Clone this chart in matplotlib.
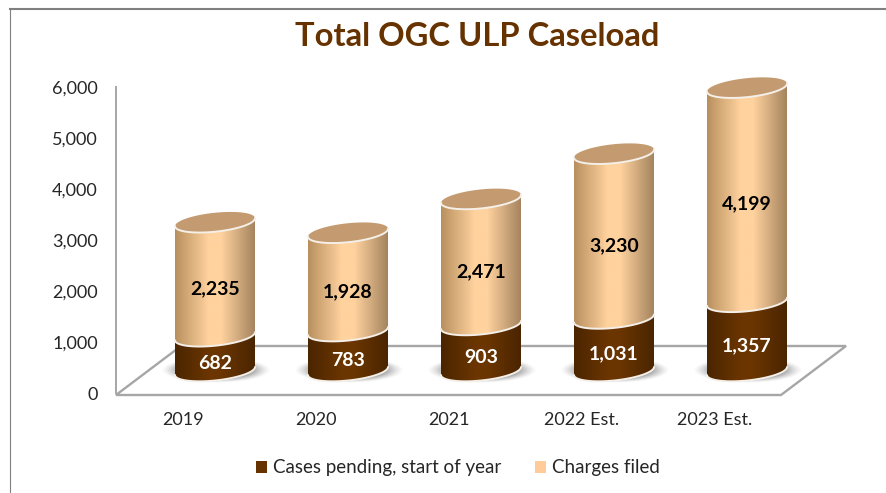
import numpy as np
import matplotlib
matplotlib.use('Agg')
import matplotlib.pyplot as plt
from matplotlib.lines import Line2D
from matplotlib.patches import Polygon, Patch

years = ['2019', '2020', '2021', '2022 Est.', '2023 Est.']
pending = [682, 783, 903, 1031, 1357]
filed = [2235, 1928, 2471, 3230, 4199]
yticks = [0, 1000, 2000, 3000, 4000, 5000, 6000]

plt.rcParams['font.family'] = ['Lato', 'DejaVu Sans']

W, H = 886, 493
fig = plt.figure(figsize=(W / 100, H / 100), dpi=100)

# frame of the screenshot, only top and left are visible
fig.add_artist(Line2D([9.5 / W, 1], [1 - 9 / H, 1 - 9 / H], color='#808080', lw=1.5))
fig.add_artist(Line2D([9.5 / W, 9.5 / W], [1 - 9 / H, 0], color='#808080', lw=0.8))

# axes box in pixels, 133 px between categories
left, right, bottom, top = 116, 860, 393, 55
ax = fig.add_axes([left / W, 1 - bottom / H, (right - left) / W, (bottom - top) / H])
px_y = 6000 / 306.0  # value per pixel
px_x = 1 / 133.0
xmin = (left - 215) * px_x
xmax = (right - 215) * px_x
ymax = (bottom - top) * px_y


def fx(p):
    return xmin + (p - left) * px_x


def fy(p):
    return (bottom - p) * px_y


# floor
floor = Polygon([(fx(116), fy(395)), (fx(781), fy(395)), (fx(846), fy(346)), (fx(181), fy(346))],
                closed=True, fc='white', ec='#a6a6a6', lw=1.7, clip_on=False, zorder=1)
ax.add_patch(floor)

half_w = 40 * px_x
b_y = 9.5 * px_y
tilt = 4.0 * px_y
base = 22.0 * px_y  # centre of the base ellipse above the front floor edge


def front_arc(x, y):
    t = np.linspace(np.pi, 0, 80)
    return x + half_w * np.cos(t), y - b_y * np.sin(t) + tilt * np.cos(t)


def gradient(c_edge_l, c_mid, c_edge_r):
    stops = np.array([matplotlib.colors.to_rgb(c) for c in (c_edge_l, c_mid, c_mid, c_edge_r)])
    pos = [0, 0.42, 0.58, 1]
    xs = np.linspace(0, 1, 120)
    return np.stack([np.interp(xs, pos, stops[:, i]) for i in range(3)], axis=1)[np.newaxis, :, :]


grad_top = gradient('#b8905f', '#ffd29e', '#a5845f')
grad_low = gradient('#4a2500', '#6b3500', '#4a2500')

# soft shadow, one image reused under every cylinder
gx, gy = np.meshgrid(np.linspace(-1, 1, 120), np.linspace(-1, 1, 50))
shadow = np.zeros((50, 120, 4))
shadow[:, :, :3] = 0.35
shadow[:, :, 3] = 0.7 * np.clip((1 - np.hypot(gx, gy)) / 0.4, 0, 1) ** 1.3


def segment(x, y0, y1, grad, z):
    ax0, ay0 = front_arc(x, y0)
    ax1, ay1 = front_arc(x, y1)
    body = Polygon(np.column_stack([np.r_[ax0, ax1[::-1]], np.r_[ay0, ay1[::-1]]]),
                   closed=True, fc='none', ec='none', transform=ax.transData)
    ax.add_patch(body)
    im = ax.imshow(grad, extent=[x - half_w, x + half_w, y0 - 2 * b_y, y1 + 2 * b_y],
                   aspect='auto', zorder=z, interpolation='bilinear')
    im.set_clip_path(body)
    ax.plot(ax0, ay0, color='#f4efe8', lw=1.4, zorder=z + 0.2, solid_capstyle='round')


for i, year in enumerate(years):
    y0 = base
    y1 = base + pending[i]
    y2 = y1 + filed[i]
    # blurred shadow on the floor
    ax.imshow(shadow, extent=[i - 54 * px_x, i + 56 * px_x, y0 - 12 * px_y, y0 + 14 * px_y],
              aspect='auto', zorder=2, interpolation='bilinear')
    segment(i, y0, y1, grad_low, 3 + i)
    segment(i, y1, y2, grad_top, 3 + i)
    # top of the cylinder
    t = np.linspace(0, 2 * np.pi, 160)
    ax.fill(i + half_w * np.cos(t), y2 - b_y * np.sin(t) + tilt * np.cos(t),
            color='#c49b70', zorder=3.5 + i, lw=0)
    ax.plot(*front_arc(i, y2), color='#f4efe8', lw=1.4, zorder=3.6 + i)
    # labels sit on the front of the cylinder
    front = base - b_y
    ax.text(i, front + pending[i] / 2, f'{pending[i]:,}', color='white', fontsize=14,
            fontweight='bold', ha='center', va='center', zorder=20)
    ax.text(i, front + pending[i] + filed[i] / 2, f'{filed[i]:,}', color='black', fontsize=14,
            fontweight='bold', ha='center', va='center', zorder=20)

ax.set_xlim(xmin, xmax)
ax.set_ylim(0, ymax)

for s in ['top', 'right', 'bottom']:
    ax.spines[s].set_visible(False)
ax.spines['left'].set_bounds(0, 6000)
ax.spines['left'].set_color('#a6a6a6')
ax.spines['left'].set_linewidth(1.4)
ax.set_facecolor('none')

ax.set_yticks(yticks, [f'{v:,}' for v in yticks])
# category labels sit on the front floor edge, left of the cylinders
ax.set_xticks(np.arange(len(years)) - 32 * px_x, years)
ax.tick_params(axis='y', length=0, pad=13, labelsize=13, labelcolor='#262626')
ax.tick_params(axis='x', length=0, pad=14, labelsize=13, labelcolor='#262626')

fig.text(477 / W, 1 - 37 / H, 'Total OGC ULP Caseload', color='#663300', fontsize=23.6,
         fontweight='bold', ha='center', va='center')

handles = [Patch(fc='#663300', label='Cases pending, start of year'),
           Patch(fc='#ffcc99', label='Charges filed')]
fig.legend(handles=handles, loc='center', bbox_to_anchor=(457.8 / W, 1 - 468 / H), ncol=2, frameon=False,
           fontsize=13.5, handlelength=0.6, handleheight=0.6, handletextpad=0.3, columnspacing=1.78,
           labelcolor='#262626')

fig.savefig('out.png', dpi=100)
